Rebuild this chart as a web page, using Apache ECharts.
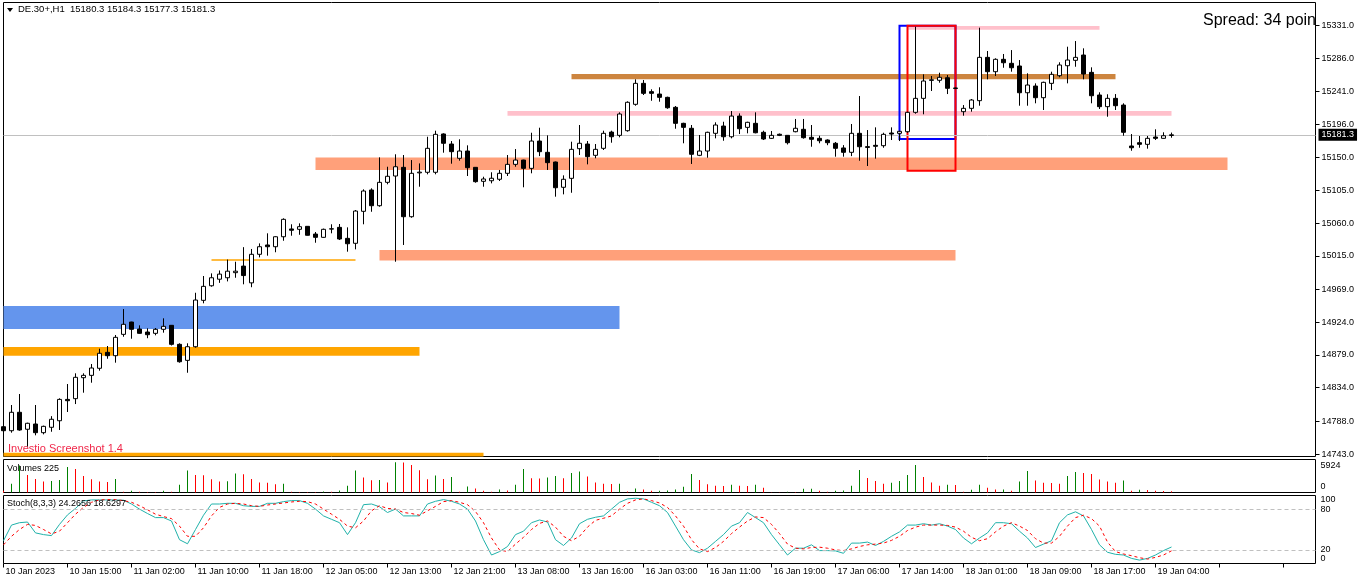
<!DOCTYPE html>
<html><head><meta charset="utf-8">
<script src="https://cdn.jsdelivr.net/npm/echarts@6/dist/echarts.min.js"></script>
<style>html,body{margin:0;padding:0;background:#fff;overflow:hidden}#c{width:1362px;height:585px}</style>
</head><body><div id="c"></div>
<script>
const symbolName = 'DE.30+,H1';
const spreadPoints = 34;
const tickLabels = ['10 Jan 2023','10 Jan 15:00','11 Jan 02:00','11 Jan 10:00','11 Jan 18:00','12 Jan 05:00','12 Jan 13:00','12 Jan 21:00','13 Jan 08:00','13 Jan 16:00','16 Jan 03:00','16 Jan 11:00','16 Jan 19:00','17 Jan 06:00','17 Jan 14:00','18 Jan 01:00','18 Jan 09:00','18 Jan 17:00','19 Jan 04:00'];
const priceTicks = [15331.0,15286.0,15241.0,15196.0,15150.0,15105.0,15060.0,15015.0,14969.0,14924.0,14879.0,14834.0,14788.0,14743.0];
const stochTicks = [0,20,80,100];
const stochLevels = [20,80];

const openP = [14780.5,14775,14800.3,14777,14784.2,14772.3,14779.7,14788.7,14818,14819,
14847.8,14851,14860.7,14882.6,14878,14907.3,14924.2,14914.6,14910.5,14908.7,
14914.2,14919.7,14893.6,14871.6,14890.3,14954,14974,14983,14985,14992,
15001,14978,15017.2,15030,15027.6,15041.3,15052,15051.5,15055.6,15045,
15040.5,15051.8,15054.2,15039.1,15032.3,15076.2,15105.5,15083.9,15116,15124.7,
15136.6,15068.8,15129,15129.8,15129.8,15182.4,15168.6,15149,15159,15136.6,
15117.4,15118.2,15120.2,15128.4,15140.7,15146.6,15135.2,15172.7,15157.2,15143.9,
15109.2,15121.5,15162.2,15168.6,15153.1,15162.7,15185,15180.5,15186.9,15223.1,
15251.9,15240.5,15237.2,15232.7,15219,15197,15190.2,15153.1,15159,15183.3,
15193.3,15178.6,15207,15191.5,15197,15184.7,15176.4,15182,15180.5,15185.5,
15188.8,15177.8,15176.4,15174.1,15169.6,15163.2,15157.2,15183.3,15165,15166.8,
15166.3,15183.7,15183.3,15185.5,15212.1,15231.3,15256,15256.1,15259.6,15245.5,
15213,15217.6,15228.1,15287.6,15267.9,15284.9,15279.4,15275.7,15239,15248.2,
15232.2,15251.9,15262.4,15276.1,15283.5,15290.8,15267,15235.9,15219.9,15231.3,
15222.1,15165.9,15170.4,15168.2,15178.2,15176.4,15180.3];
const highP = [14786.5,14810.3,14825.4,14786,14810.3,14782,14795,14819.5,14839.1,14853.8,
14853.8,14866.6,14887.6,14891.3,14906.4,14942,14924.6,14919.7,14915.6,14916,
14929.3,14920,14895,14895,14964.4,14987.4,14991,14995,15010,15007,
15027,15024.5,15032.2,15046,15042,15066.6,15058.4,15059.7,15056,15047.8,
15052.5,15058.4,15058.8,15054.2,15078,15106.4,15107.8,15150.3,15137.4,15154.5,
15153.5,15146.6,15142,15178.6,15186.9,15183.3,15172.7,15175.1,15166.8,15137,
15123.7,15129.8,15133,15153.5,15161.7,15147,15184.1,15191,15180.5,15144.5,
15125.6,15171.8,15194.7,15172.7,15168.6,15186.9,15186.9,15212.1,15227.2,15257.4,
15256.5,15243.7,15246.5,15233.6,15220.8,15197.8,15194.7,15181,15185.5,15198.4,
15199.2,15213.9,15210.7,15199.2,15212.1,15186.9,15186.5,15183,15181,15203,
15203,15194.7,15180,15175,15171.4,15167.1,15196.1,15234.5,15187.8,15191.5,
15184.1,15191.5,15186.9,15213,15329.6,15264.3,15262,15266.5,15263.3,15246,
15222.1,15230.4,15328.3,15296.3,15286.3,15292.2,15297.6,15283.9,15265.7,15251.9,
15254.2,15267.9,15280.8,15302.2,15310,15300,15273.9,15239.6,15236.9,15237.2,
15224.5,15182.3,15179.6,15179.6,15188.8,15184.7,15184.3];
const lowP = [14762,14772.3,14775,14753,14768.7,14770,14773.6,14776,14800.7,14811.6,
14827.2,14840.9,14857.4,14873.8,14868.4,14904,14901.3,14908.2,14902,14906,
14909.6,14892,14868.4,14854.6,14889,14949.9,14972.7,14978,14980,14985,
14976,14972,15013,15015.3,15020,15035.8,15042.7,15044,15043,15033.1,
15040,15046,15036.8,15020.8,15024,15058.4,15075.6,15082.5,15113.3,15007,
15030,15067.4,15110,15127,15127,15156.7,15141.6,15145.7,15124.7,15115.5,
15110,15114.6,15117.8,15124.7,15137.4,15109.2,15128.4,15152,15133,15096.3,
15099.5,15101.7,15153.5,15140.7,15149,15160.4,15170.4,15177.8,15185.5,15221.2,
15235.9,15228,15226.7,15217,15189.6,15169.6,15141.2,15152,15149.8,15176.4,
15173.1,15176.4,15182.3,15183.3,15183.3,15174.1,15175.5,15179.5,15168,15184.7,
15176,15164.9,15169.6,15167,15151.2,15151.2,15152,15145.7,15138.4,15148.5,
15163.5,15174.1,15172.7,15184,15210.2,15209.4,15241.4,15252.8,15237.2,15244,
15207.5,15213,15221.2,15257.4,15262,15273.3,15267.9,15221.2,15221.2,15224.5,
15215.3,15242.7,15260.2,15251.9,15274.7,15257.4,15224.5,15216.7,15206.1,15215.3,
15180,15159.4,15163.5,15162.2,15174.1,15176,15177.3];
const closeP = [14775,14800.3,14776,14785.2,14772.3,14781,14790.7,14818,14816.2,14848.3,
14851,14861.1,14881.3,14878,14903.2,14921.1,14914.2,14908.7,14906.8,14914.2,
14918.3,14893.6,14869.7,14890.3,14954.4,14973.2,14985,14990,14994,14994,
14988,15017.2,15027.6,15027.6,15041.3,15065.2,15050.2,15055.1,15043.3,15040.5,
15051.5,15052.3,15038.2,15031.7,15076.6,15104.1,15083.9,15116,15124.3,15137.4,
15068.8,15128.4,15130,15162.7,15181.9,15169.6,15158.1,15159,15136.1,15116.9,
15120.6,15121.6,15128.4,15140.7,15146.6,15135.2,15172.7,15158.1,15143,15108.6,
15120.2,15161.3,15169.6,15151.2,15161.3,15183.3,15178.6,15209.8,15225.9,15251.9,
15238.2,15238.2,15232.7,15218.4,15197,15191.5,15154.5,15159,15184.7,15194.7,
15178.6,15207,15189.6,15198.4,15184.1,15175.5,15180.5,15180.5,15170.4,15190.2,
15177.3,15175.1,15173.1,15170.4,15162.7,15157.2,15183.3,15164.9,15164,15165.5,
15181.9,15182.3,15186,15212.1,15231.3,15255.1,15256.8,15260.2,15245.1,15245,
15217.6,15229,15287.6,15267.9,15284.9,15280.2,15273.3,15239,15249.6,15232.2,
15253.3,15264.3,15277.1,15283.9,15287.6,15264.7,15234.9,15219.9,15231.3,15221.2,
15184.7,15163.5,15168.2,15176.4,15176.4,15180,15181.3];
const volumes = [325,1693,5300,3450,2669,2148,2278,2474,5013,4622,
3255,2604,2148,2083,2669,130,325,140,120,100,
325,130,1497,4297,3450,3400,2604,2148,2200,3711,
3580,2669,1953,1900,1628,1700,130,120,110,100,
200,130,390,1302,4297,2930,2409,2474,1953,5924,
5900,5403,4362,2604,3320,2669,3060,130,1172,781,
325,130,586,390,1497,4622,2800,2750,2930,3255,
2800,3841,4101,3125,1953,1693,1650,1700,195,781,
586,325,350,390,586,1107,3646,2474,1628,1302,
1280,1497,1302,1290,1497,911,60,50,130,120,
716,730,325,130,325,390,1302,4427,2864,2278,
1693,1888,2278,3450,5403,3060,1953,1302,1497,1450,
130,521,1497,911,586,600,325,2148,4232,2344,
1888,1850,1693,3255,4036,3841,3646,2539,2148,1888,
2344,325,521,500,325,300,225];
const stochK = [33.5,56.5,60,61,45,42.5,41,57.5,71.5,81,
92,93.5,93.5,93.5,93.5,93,87.5,80,73.5,67.5,
67.5,62.5,35,29,50,71,87.5,87.5,88.5,88.5,
85,84,84,88.5,88.5,91,92.5,92.5,88.5,80,
70,65,60,42.5,60,86.5,87.5,83.5,75,80,
70,70,70,87.5,91.5,94,91.5,87.5,80,62.5,
35,12.5,17.5,25,42.5,47.5,60,64,61,35,
26.5,37.5,58.5,65,68,70,80,90,95,96,
95,90,85,75,55,35,20,16,22.5,32.5,
42.5,55,60,75,67.5,60,42.5,27.5,12.5,22.5,
22.5,27.5,19,19,18.5,15,30,30,31.5,26.5,
32.5,40,46.5,56.5,56.5,58.5,56.5,58.5,55,50,
37.5,29,37.5,45,60,60,58.5,47.5,37.5,23.5,
28.5,33.5,60,71.5,76,70,50,27.5,16.5,13.5,
12.5,7.5,5,7.5,12.5,19,24.2656];
const stochD = [27.5,40,50,57.5,56,50,43.5,47.5,60,72.5,
82.5,90,93.5,94,94,92.5,90,85,79,72.5,
69,66,55,40,40,52.5,70,82.5,87.5,88.5,
87.5,85,84,86,87.5,89,90.5,91.5,91,87.5,
80,72.5,65,55,52.5,62.5,77.5,85,81,80,
75,73.5,71,77.5,84,91,92.5,90,86.5,76.5,
60,37.5,20,17.5,28.5,38.5,50,59,62.5,53.5,
40,33.5,40,53.5,63.5,66.5,70,80,88.5,93.5,
95,92.5,89,82.5,70,55,35,21.5,17.5,23.5,
32.5,44,53.5,62.5,68.5,67.5,57.5,44,28.5,22.5,
21.5,23.5,24,22.5,20,19,21.5,25,27.5,28.5,
30,34,40,48.5,53.5,56.5,56.5,56.5,56,53.5,
47.5,38.5,33.5,36.5,46.5,55,60,55,48.5,36.5,
30,30,40,55,67.5,71,66,55,31.5,17.5,
14,11.5,8.5,6.5,9,12.5,18.6297];
// drawn zones: [startBar, endBar, highPrice, lowPrice]
const zoneBlue = [0, 77, 14946.2, 14914.6];
const zoneOrange = [0, 52, 14889.9, 14878.0];
const zoneOrangeBottom = [0, 60, 14744.9, 14739.3];
const zoneOrangeThin = [26, 44, 15010.5, 15008.3];
const zoneSalmonUpper = [39, 153, 15150.0, 15132.9];
const zoneSalmonLower = [47, 119, 15023.0, 15008.7];
const zonePinkUpper = [113, 137, 15330.6, 15325.5];
const zonePinkMid = [63, 146, 15214.0, 15207.5];
const zoneBrown = [71, 139, 15264.7, 15257.5];
const boxBlue = [112, 119, 15331.0, 15175.5];
const boxRed = [113, 119, 15331.0, 15132.0];

const FONT = "'Liberation Sans', Arial, sans-serif";
const totalSlots = 165;
const cats = Array.from({length: totalSlots}, (_, i) => String(i));
const last = openP.length - 1;
const lastClose = closeP[last];

const fillZone = (z, color) => [{xAxis: z[0], yAxis: z[2], itemStyle: {color: color}}, {xAxis: z[1], yAxis: z[3]}];
const boxZone = (z, color) => [{xAxis: z[0], yAxis: z[2], itemStyle: {color: 'rgba(0,0,0,0)', borderColor: color, borderWidth: 2}}, {xAxis: z[1], yAxis: z[3]}];

const chart = echarts.init(document.getElementById('c'), null, {renderer: 'canvas'});
const baseX = {type: 'category', data: cats, boundaryGap: false, axisLine: {show: false}, axisTick: {show: false}, axisLabel: {show: false}, splitLine: {show: false}};
const G = {left: 3.5, right: 46.5, show: true, borderColor: '#000', borderWidth: 1};
const grids = [
  Object.assign({top: 2.5, height: 454}, G),
  Object.assign({top: 459.5, height: 33}, G),
  Object.assign({top: 495.5, height: 68}, G)
];
const volMax = Math.max(...volumes);
const lbl = {fontSize: 9, fontFamily: FONT, color: '#000'};
const stochAxis = (values, vAlign) => ({gridIndex: 2, type: 'value', position: 'right', min: 0, max: 100,
  splitLine: {show: false}, axisLine: {show: false}, axisTick: {show: false},
  axisLabel: Object.assign({customValues: values, margin: 5, verticalAlign: vAlign, hideOverlap: false}, lbl)});

chart.setOption({
  animation: false,
  backgroundColor: '#fff',
  grid: grids,
  xAxis: [
    Object.assign({gridIndex: 0}, baseX),
    Object.assign({gridIndex: 1}, baseX),
    Object.assign({}, baseX, {gridIndex: 2,
      axisTick: {show: true, interval: 7, length: 4, lineStyle: {color: '#000'}},
      axisLabel: Object.assign({show: true, interval: 7, align: 'left', padding: [0,0,0,2], margin: 4,
        formatter: (v, idx) => (idx % 8 === 0 && tickLabels[idx / 8]) ? tickLabels[idx / 8] : ''}, lbl)
    })
  ],
  yAxis: [
    {gridIndex: 0, type: 'value', position: 'right', min: 14739.6, max: 15362.9, splitLine: {show: false},
      axisLine: {show: false},
      axisTick: {show: true, length: 4, customValues: priceTicks, lineStyle: {color: '#000'}},
      axisLabel: Object.assign({customValues: priceTicks, formatter: v => v.toFixed(1), margin: 6, hideOverlap: false}, lbl)},
    {gridIndex: 1, type: 'value', position: 'right', min: 0, max: 6470, splitLine: {show: false}, axisLine: {show: false},
      axisTick: {show: false},
      axisLabel: Object.assign({customValues: [0, volMax], showMinLabel: true, showMaxLabel: true, hideOverlap: false, margin: 5,
        formatter: v => v === 0 ? '{b|0}' : '{t|' + v + '}',
        rich: {t: {padding: [6,0,0,0], fontSize: 9, fontFamily: FONT}, b: {padding: [0,0,12,0], fontSize: 9, fontFamily: FONT}}}, lbl)},
    stochAxis(stochTicks.filter(v => v > 0 && v < 100), 'middle'),
    stochAxis([stochTicks[stochTicks.length - 1]], 'top'),
    stochAxis([stochTicks[0]], 'bottom')
  ],
  series: [
    {type: 'candlestick', xAxisIndex: 0, yAxisIndex: 0, barWidth: 5, z: 3,
      data: openP.map((o, i) => [o, closeP[i], lowP[i], highP[i]]),
      itemStyle: {color: '#fff', color0: '#000', borderColor: '#000', borderColor0: '#000', borderWidth: 1},
      markArea: {silent: true, z: 1, data: [
        fillZone(zoneBlue, '#6495ED'), fillZone(zoneOrange, '#FFA500'), fillZone(zoneOrangeBottom, '#FFA500'),
        fillZone(zoneOrangeThin, '#FFA500'), fillZone(zoneSalmonUpper, '#FFA07A'), fillZone(zoneSalmonLower, '#FFA07A'),
        fillZone(zonePinkUpper, '#FFC0CB'), fillZone(zonePinkMid, '#FFC0CB'), fillZone(zoneBrown, '#CD853F'),
        boxZone(boxBlue, '#0000FF'), boxZone(boxRed, '#FF0000')
      ]},
      markLine: {silent: true, symbol: ['none', 'none'], z: 2,
        lineStyle: {color: '#c0c0c0', width: 1, type: 'solid'},
        label: {show: true, position: 'end', distance: 3, formatter: lastClose.toFixed(1), backgroundColor: '#000', color: '#fff', padding: [2,3,1,3], fontSize: 9, fontFamily: FONT},
        data: [{yAxis: lastClose}]}
    },
    {type: 'bar', xAxisIndex: 1, yAxisIndex: 1, barWidth: 1, data: volumes,
      itemStyle: {color: p => (p.dataIndex > 0 && volumes[p.dataIndex] > volumes[p.dataIndex - 1]) ? '#008000' : '#FF0000'}},
    {type: 'line', xAxisIndex: 2, yAxisIndex: 2, data: stochK, showSymbol: false, symbol: 'none',
      lineStyle: {color: '#20B2AA', width: 1},
      markLine: {silent: true, symbol: ['none','none'], label: {show: false}, lineStyle: {color: '#c0c0c0', width: 1, type: [4,3]},
        data: stochLevels.map(v => ({yAxis: v}))}},
    {type: 'line', xAxisIndex: 2, yAxisIndex: 2, data: stochD, showSymbol: false, symbol: 'none',
      lineStyle: {color: '#FF0000', width: 1, type: [3,3]}}
  ],
  graphic: [
    {type: 'polygon', z: 100, shape: {points: [[7,8],[13,8],[10,12]]}, style: {fill: '#000'}},
    {type: 'text', z: 100, left: 18, top: 4, style: {text: symbolName + '  ' + [openP[last], highP[last], lowP[last], closeP[last]].map(v => v.toFixed(1)).join(' '), fontSize: 9.5, fontFamily: FONT, fill: '#000'}},
    {type: 'text', z: 100, left: 1203, top: 13, style: {text: 'Spread: ' + spreadPoints + ' poin', fontSize: 16, fontFamily: FONT, fill: '#000'}},
    {type: 'text', z: 100, left: 8, top: 443, style: {text: 'Investio Screenshot 1.4', fontSize: 11, fontFamily: FONT, fill: '#F0284A'}},
    {type: 'text', z: 100, left: 7, top: 464, style: {text: 'Volumes ' + volumes[last], fontSize: 9, fontFamily: FONT, fill: '#000'}},
    {type: 'text', z: 100, left: 7, top: 499, style: {text: 'Stoch(8,3,3) ' + stochK[last].toFixed(4) + ' ' + stochD[last].toFixed(4), fontSize: 9, fontFamily: FONT, fill: '#000'}}
  ]
});
</script></body></html>
